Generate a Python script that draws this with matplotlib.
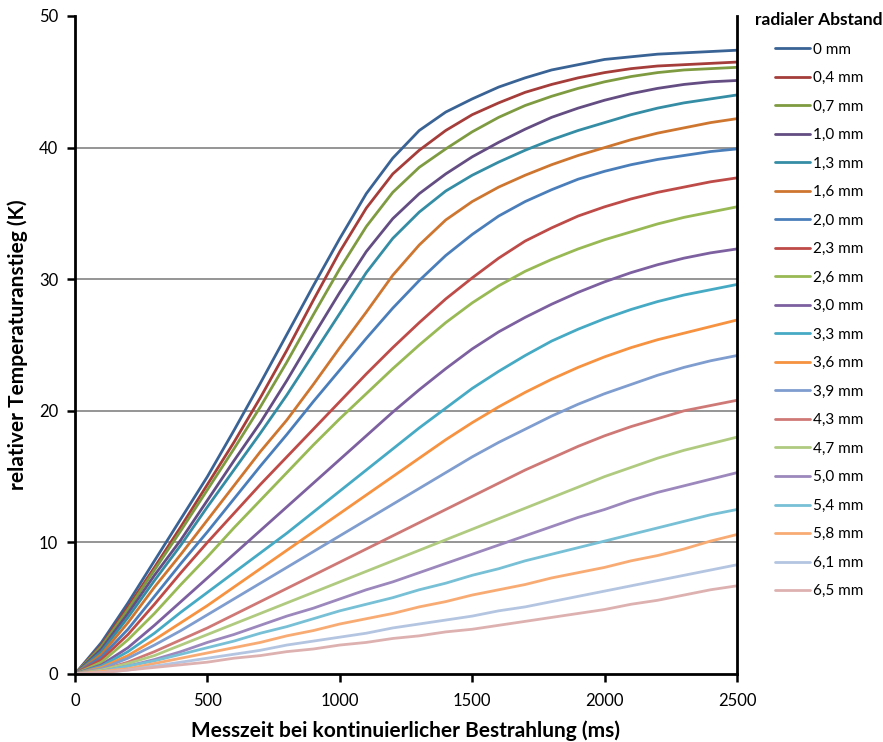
import matplotlib
matplotlib.use("Agg")
import matplotlib.pyplot as plt
import numpy as np

plt.rcParams['font.family'] = ['Lato', 'DejaVu Sans']

time_ms = list(range(0, 2600, 100))

labels = ["0 mm", "0,4 mm", "0,7 mm", "1,0 mm", "1,3 mm", "1,6 mm", "2,0 mm", "2,3 mm",
          "2,6 mm", "3,0 mm", "3,3 mm", "3,6 mm", "3,9 mm", "4,3 mm", "4,7 mm", "5,0 mm",
          "5,4 mm", "5,8 mm", "6,1 mm", "6,5 mm"]

r_0_0 = [0, 2.4, 5.4, 8.6, 11.8, 15.0, 18.5, 22.1, 25.8, 29.5, 33.1, 36.5, 39.2, 41.3, 42.7, 43.7, 44.6, 45.3, 45.9, 46.3, 46.7, 46.9, 47.1, 47.2, 47.3, 47.4]
r_0_4 = [0, 2.2, 5.1, 8.1, 11.2, 14.4, 17.6, 21.0, 24.6, 28.4, 32.1, 35.4, 38.0, 39.8, 41.3, 42.5, 43.4, 44.2, 44.8, 45.3, 45.7, 46.0, 46.2, 46.3, 46.4, 46.5]
r_0_7 = [0, 2.1, 4.9, 7.9, 10.9, 14.0, 17.1, 20.3, 23.7, 27.3, 30.8, 34.0, 36.6, 38.5, 39.9, 41.2, 42.3, 43.2, 43.9, 44.5, 45.0, 45.4, 45.7, 45.9, 46.0, 46.1]
r_1_0 = [0, 1.9, 4.6, 7.5, 10.2, 13.2, 16.2, 19.1, 22.3, 25.7, 29.0, 32.1, 34.6, 36.5, 38.0, 39.3, 40.4, 41.4, 42.3, 43.0, 43.6, 44.1, 44.5, 44.8, 45.0, 45.1]
r_1_3 = [0, 1.7, 4.3, 7.1, 9.8, 12.7, 15.5, 18.3, 21.2, 24.3, 27.4, 30.5, 33.1, 35.1, 36.7, 37.9, 38.9, 39.8, 40.6, 41.3, 41.9, 42.5, 43.0, 43.4, 43.7, 44.0]
r_1_6 = [0, 1.5, 3.9, 6.6, 9.1, 11.7, 14.3, 16.9, 19.3, 22.0, 24.8, 27.5, 30.3, 32.6, 34.5, 35.9, 37.0, 37.9, 38.7, 39.4, 40.0, 40.6, 41.1, 41.5, 41.9, 42.2]
r_2_0 = [0, 1.3, 3.4, 5.9, 8.4, 10.8, 13.3, 15.8, 18.2, 20.7, 23.1, 25.5, 27.8, 29.9, 31.8, 33.4, 34.8, 35.9, 36.8, 37.6, 38.2, 38.7, 39.1, 39.4, 39.7, 39.9]
r_2_3 = [0, 1.1, 3.0, 5.3, 7.7, 10.0, 12.2, 14.4, 16.5, 18.6, 20.7, 22.8, 24.8, 26.7, 28.5, 30.1, 31.6, 32.9, 33.9, 34.8, 35.5, 36.1, 36.6, 37.0, 37.4, 37.7]
r_2_6 = [0, 0.9, 2.6, 4.6, 6.8, 8.9, 11.1, 13.2, 15.3, 17.4, 19.4, 21.3, 23.2, 25.0, 26.7, 28.2, 29.5, 30.6, 31.5, 32.3, 33.0, 33.6, 34.2, 34.7, 35.1, 35.5]
r_3_0 = [0, 0.7, 2.0, 3.7, 5.5, 7.3, 9.1, 10.9, 12.7, 14.5, 16.3, 18.1, 19.9, 21.6, 23.2, 24.7, 26.0, 27.1, 28.1, 29.0, 29.8, 30.5, 31.1, 31.6, 32.0, 32.3]
r_3_3 = [0, 0.6, 1.7, 3.1, 4.7, 6.2, 7.7, 9.2, 10.7, 12.3, 13.9, 15.5, 17.1, 18.7, 20.2, 21.7, 23.0, 24.2, 25.3, 26.2, 27.0, 27.7, 28.3, 28.8, 29.2, 29.6]
r_3_6 = [0, 0.5, 1.4, 2.6, 3.9, 5.2, 6.6, 8.0, 9.4, 10.8, 12.2, 13.6, 15.0, 16.4, 17.8, 19.1, 20.3, 21.4, 22.4, 23.3, 24.1, 24.8, 25.4, 25.9, 26.4, 26.9]
r_3_9 = [0, 0.4, 1.2, 2.2, 3.3, 4.5, 5.7, 6.9, 8.1, 9.3, 10.5, 11.7, 12.9, 14.1, 15.3, 16.5, 17.6, 18.6, 19.6, 20.5, 21.3, 22.0, 22.7, 23.3, 23.8, 24.2]
r_4_3 = [0, 0.3, 0.9, 1.7, 2.6, 3.5, 4.5, 5.5, 6.5, 7.5, 8.5, 9.5, 10.5, 11.5, 12.5, 13.5, 14.5, 15.5, 16.4, 17.3, 18.1, 18.8, 19.4, 20.0, 20.4, 20.8]
r_4_7 = [0, 0.3, 0.8, 1.4, 2.2, 3.0, 3.8, 4.6, 5.4, 6.2, 7.0, 7.8, 8.6, 9.4, 10.2, 11.0, 11.8, 12.6, 13.4, 14.2, 15.0, 15.7, 16.4, 17.0, 17.5, 18.0]
r_5_0 = [0, 0.2, 0.6, 1.1, 1.7, 2.4, 3.0, 3.7, 4.4, 5.0, 5.7, 6.4, 7.0, 7.7, 8.4, 9.1, 9.8, 10.5, 11.2, 11.9, 12.5, 13.2, 13.8, 14.3, 14.8, 15.3]
r_5_4 = [0, 0.2, 0.6, 1.0, 1.5, 2.0, 2.5, 3.1, 3.6, 4.2, 4.8, 5.3, 5.8, 6.4, 6.9, 7.5, 8.0, 8.6, 9.1, 9.6, 10.1, 10.6, 11.1, 11.6, 12.1, 12.5]
r_5_8 = [0, 0.2, 0.4, 0.8, 1.2, 1.6, 2.0, 2.4, 2.9, 3.3, 3.8, 4.2, 4.6, 5.1, 5.5, 6.0, 6.4, 6.8, 7.3, 7.7, 8.1, 8.6, 9.0, 9.5, 10.1, 10.6]
r_6_1 = [0, 0.1, 0.3, 0.6, 0.9, 1.2, 1.5, 1.8, 2.2, 2.5, 2.8, 3.1, 3.5, 3.8, 4.1, 4.4, 4.8, 5.1, 5.5, 5.9, 6.3, 6.7, 7.1, 7.5, 7.9, 8.3]
r_6_5 = [0, 0.1, 0.3, 0.5, 0.7, 0.9, 1.2, 1.4, 1.7, 1.9, 2.2, 2.4, 2.7, 2.9, 3.2, 3.4, 3.7, 4.0, 4.3, 4.6, 4.9, 5.3, 5.6, 6.0, 6.4, 6.7]

series = [r_0_0, r_0_4, r_0_7, r_1_0, r_1_3, r_1_6, r_2_0, r_2_3, r_2_6, r_3_0,
          r_3_3, r_3_6, r_3_9, r_4_3, r_4_7, r_5_0, r_5_4, r_5_8, r_6_1, r_6_5]

colors = ["#3A6395", "#A53D3A", "#7F9B41", "#644D82", "#348DA5", "#CE7630",
          "#4A7EBB", "#BE4B48", "#98B954", "#7D60A0", "#46AAC5", "#F69240",
          "#7F9DCF", "#CF7977", "#B0CB80", "#9C88BC", "#77C0D6", "#F9AB74",
          "#B4C5E1", "#DDB1B0"]

W, H = 883, 742
fig = plt.figure(figsize=(W / 100, H / 100), dpi=100)
ax = fig.add_axes([75 / W, 1 - 674 / H, (737 - 75) / W, (674 - 16) / H])

for yv in [10, 20, 30, 40]:
    ax.axhline(yv, color="#8C8C8C", lw=1.3, zorder=1)

handles = []
for vals, lab, col in zip(series, labels, colors):
    h, = ax.plot(time_ms, vals, color=col, lw=2.0, label=lab, zorder=2,
                 solid_joinstyle='round', solid_capstyle='round')
    handles.append(h)

ax.set_xlim(0, 2500)
ax.set_ylim(0, 50)
ax.set_xticks([0, 500, 1000, 1500, 2000, 2500])
ax.set_yticks([0, 10, 20, 30, 40, 50])
ax.tick_params(axis='both', direction='out', length=6, width=1.8, labelsize=12, colors='black')
ax.tick_params(axis='x', pad=8)
ax.tick_params(axis='y', pad=6)
for s in ['left', 'bottom', 'right']:
    ax.spines[s].set_linewidth(2.0)
    ax.spines[s].set_color('black')
ax.spines['top'].set_visible(False)

ax.set_xlabel("Messzeit bei kontinuierlicher Bestrahlung (ms)", fontsize=15, fontweight='bold', labelpad=8)
ax.set_ylabel("relativer Temperaturanstieg (K)", fontsize=15, fontweight='bold', labelpad=8)

leg = fig.legend(handles=handles, labels=labels, loc='upper left',
                 bbox_to_anchor=(749 / W, 1 - 6 / H), frameon=False,
                 fontsize=11, title="radialer Abstand",
                 title_fontproperties={'weight': 'bold', 'size': 12.5},
                 handlelength=2.3, handletextpad=0.2, labelspacing=0.95,
                 borderaxespad=0)

fig.savefig("out.png", dpi=100)
